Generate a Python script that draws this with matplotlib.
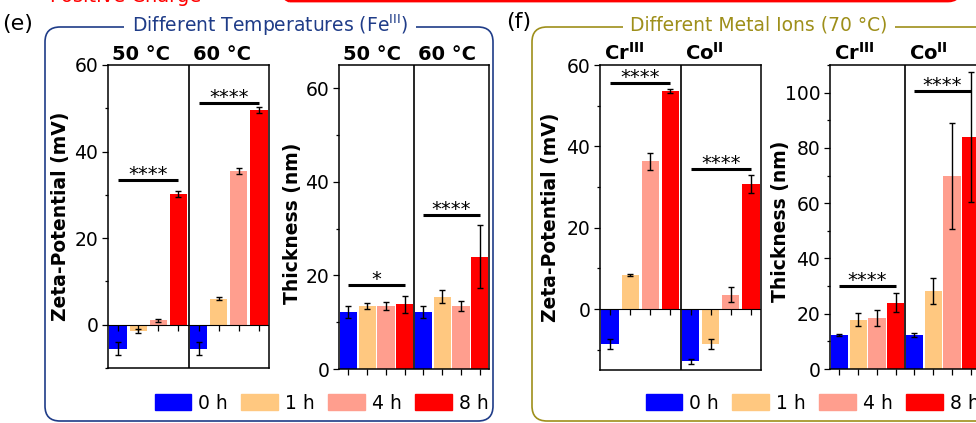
import numpy as np
import matplotlib
matplotlib.use('Agg')
from matplotlib import pyplot as plt
from matplotlib.patches import FancyBboxPatch, Patch
from matplotlib.transforms import Affine2D
from matplotlib.ticker import MultipleLocator, AutoMinorLocator
from matplotlib.markers import TICKDOWN

plt.rcParams['font.family'] = 'DejaVu Sans'
plt.rcParams['mathtext.default'] = 'regular'

W, H = 976, 423

## datos
hours = ['0 h', '1 h', '4 h', '8 h']
colors = ['#0000FF', '#FFC880', '#FF9E8E', '#FF0000']

e_groups = ['50 °C', '60 °C']
e_zeta = [[-5.5, -1.5, 1.0, 30.2], [-5.5, 6.0, 35.6, 49.5]]
e_zeta_err = [[1.6, 0.5, 0.3, 0.8], [1.6, 0.3, 0.7, 0.7]]
e_zeta_sig = [(33.5, '****'), (51.3, '****')]
e_thick = [[12.2, 13.5, 13.5, 13.8], [12.2, 15.5, 13.5, 24.0]]
e_thick_err = [[1.2, 0.7, 0.8, 1.9], [1.2, 1.3, 1.1, 6.7]]
e_thick_sig = [(18.0, '*'), (33.0, '****')]

f_groups = ['Cr$^{III}$', 'Co$^{II}$']
f_zeta = [[-8.6, 8.4, 36.3, 53.6], [-12.9, -8.6, 3.5, 30.8]]
f_zeta_err = [[1.3, 0.3, 2.1, 0.6], [0.6, 1.2, 1.8, 2.2]]
f_zeta_sig = [(55.5, '****'), (34.5, '****')]
f_thick = [[12.3, 17.8, 18.6, 24.0], [12.3, 28.2, 69.8, 84.0]]
f_thick_err = [[0.5, 2.4, 2.9, 3.5], [0.6, 4.8, 19.3, 23.4]]
f_thick_sig = [(30.2, '****'), (100.5, '****')]

fig = plt.figure(figsize=(W / 100, H / 100), dpi=100)
px = Affine2D().scale(1 / W, 1 / H) + fig.transFigure


def rect(x0, y0, x1, y1):
    return [x0 / W, 1 - y1 / H, (x1 - x0) / W, (y1 - y0) / H]


def panel(box, groups, vals, errs, sigs, ylim, major, ylabel, lab_x, lab_y, zeta):
    ax = fig.add_axes(rect(*box))
    width = 0.86 if zeta else 0.92
    for g in range(2):
        for i in range(4):
            x = g * 4 + i + 0.5
            ax.bar(x, vals[g][i], width=width, color=colors[i], zorder=2)
            ax.errorbar(x, vals[g][i], yerr=errs[g][i], color='black', lw=1,
                        capsize=2.5, capthick=1, zorder=3)
        y, s = sigs[g]
        ax.plot([g * 4 + 0.5, g * 4 + 3.5], [y, y], color='black', lw=2.2,
                solid_capstyle='butt', zorder=4)
        ax.text(g * 4 + 2, y, s, ha='center', va='baseline', fontsize=14, zorder=4)
        ax.annotate(groups[g], xy=(g * 0.5, 1), xycoords='axes fraction',
                    xytext=(3, 3.5), textcoords='offset points',
                    fontsize=14, fontweight='bold', ha='left', va='baseline')
    ax.axvline(4, color='black', lw=1.2, zorder=5)
    ax.set_xlim(0, 8)
    ax.set_ylim(*ylim)
    centers = np.arange(8) + 0.5
    if zeta:
        ax.axhline(0, color='black', lw=0.8, zorder=2.5)
        ax.plot(centers, np.zeros(8), ls='none', marker=TICKDOWN, ms=4,
                mew=0.9, color='black', zorder=3)
        ax.set_xticks([])
    else:
        ax.set_xticks(centers)
        ax.set_xticklabels([])
        ax.tick_params(axis='x', length=4, width=0.9)
    ax.yaxis.set_major_locator(MultipleLocator(major))
    ax.yaxis.set_minor_locator(AutoMinorLocator(2))
    ax.tick_params(axis='y', which='major', length=4, width=0.9, labelsize=13.5, pad=3)
    ax.tick_params(axis='y', which='minor', length=2.5, width=0.9)
    for sp in ax.spines.values():
        sp.set_linewidth(1.1)
    ax.set_ylabel(ylabel, fontsize=13.5, fontweight='bold')
    ax.yaxis.set_label_coords(lab_x, lab_y)
    return ax


panel((108, 65, 269, 368), e_groups, e_zeta, e_zeta_err, e_zeta_sig, (-10, 60), 20,
      'Zeta-Potential (mV)', -0.236, 0.5, True)
panel((339, 65, 489, 369), e_groups, e_thick, e_thick_err, e_thick_sig, (0, 65), 20,
      'Thickness (nm)', -0.247, 0.48, False)
panel((600, 65, 761, 370), f_groups, f_zeta, f_zeta_err, f_zeta_sig, (-15, 60), 20,
      'Zeta-Potential (mV)', -0.248, 0.5, True)
panel((830, 65, 980, 369), f_groups, f_thick, f_thick_err, f_thick_sig, (0, 110), 20,
      'Thickness (nm)', -0.267, 0.485, False)

# cajas redondeadas de los paneles
navy = '#1F3C88'
olive = '#9E8F1A'
for (x0, x1, col) in [(45, 493, navy), (532, 1000, olive)]:
    fig.patches.append(FancyBboxPatch((x0, H - 421), x1 - x0, 394,
                                      boxstyle='round,pad=0,rounding_size=15',
                                      fc='none', ec=col, lw=1.2, transform=px))
fig.patches.append(FancyBboxPatch((278, H - 1), 682, 60,
                                  boxstyle='round,pad=0,rounding_size=12',
                                  fc='none', ec='#FF0000', lw=2, transform=px))

fig.text(270 / W, 1 - 25 / H, 'Different Temperatures (Fe$^{III}$)', color=navy,
         fontsize=13.5, ha='center', va='center',
         bbox=dict(boxstyle='square,pad=0.4', fc='white', ec='none'))
fig.text(759 / W, 1 - 25 / H, 'Different Metal Ions (70 °C)', color=olive,
         fontsize=13.5, ha='center', va='center',
         bbox=dict(boxstyle='square,pad=0.4', fc='white', ec='none'))
fig.text(2 / W, 1 - 24 / H, '(e)', fontsize=16, ha='left', va='center')
fig.text(506 / W, 1 - 22 / H, '(f)', fontsize=16, ha='left', va='center')
# texto cortado en el borde superior, como en la figura original
fig.text(50 / W, 1 - 2.5 / H, 'Positive Charge', color='#FF0000', fontsize=14,
         ha='left', va='baseline')

## leyendas
handles = [Patch(color=c, label=h) for c, h in zip(colors, hours)]
for cx in [321.5, 812.5]:
    fig.legend(handles=handles, loc='center', bbox_to_anchor=(cx / W, 1 - 403 / H),
               ncol=4, frameon=False, fontsize=13.5, handlelength=1.97,
               handleheight=1.0, handletextpad=0.37, columnspacing=0.7,
               borderpad=0, borderaxespad=0)

fig.savefig('out.png', dpi=100)
